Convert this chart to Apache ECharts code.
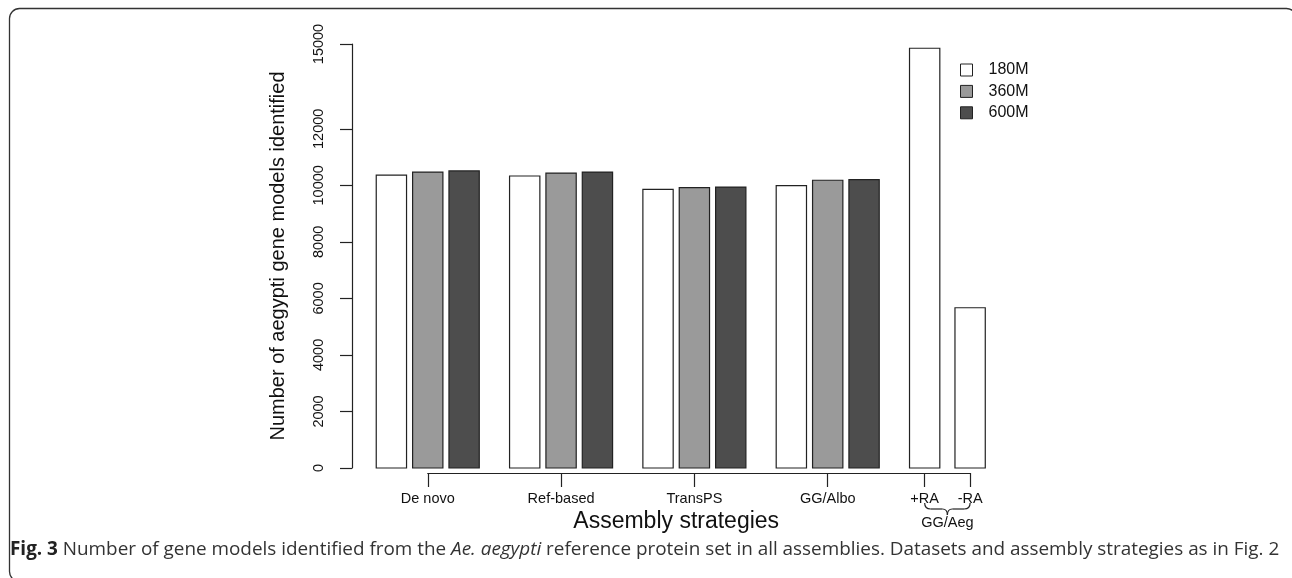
<!DOCTYPE html>
<html>
<head>
<meta charset="utf-8">
<script src="https://cdn.jsdelivr.net/npm/echarts@6/dist/echarts.min.js"></script>
<style>
  html, body { margin: 0; padding: 0; background: #fff; }
  #chart { width: 1292px; height: 578px; }
</style>
</head>
<body>
<div id="chart"></div>
<script>
// data
var seriesNames = ['180M', '360M', '600M'];
var groupNames = ['De novo', 'Ref-based', 'TransPS', 'GG/Albo'];
var values180 = [10360, 10330, 9860, 9990];
var values360 = [10470, 10435, 9920, 10180];
var values600 = [10510, 10470, 9940, 10200];
var aegNames = ['+RA', '-RA'];
var aegValues = [14850, 5670];
var yTicks = [0, 2000, 4000, 6000, 8000, 10000, 12000, 15000];

var barColors = ['#ffffff', '#9a9a9a', '#4d4d4d'];
var axisFont = 'Liberation Sans, Arial, sans-serif';

// barplot layout in bar-width units (R style: space 0.2 inside, 1 between groups)
var groupStep = 4.4;
var barStep = 1.2;
var unitPx = 30.3;
var gridLeft = 352;
var xMin = -0.8, xMax = 20.6;
var gridRight = 1292 - gridLeft - (xMax - xMin) * unitPx;

var perSeries = [values180, values360, values600];
var seriesData = [[], [], []];
var centers = [];
var centerNames = [];
groupNames.forEach(function(name, g) {
    var start = g * groupStep;
    for (var i = 0; i < 3; i++) {
        seriesData[i].push([start + i * barStep, perSeries[i][g]]);
    }
    centers.push(start + barStep + 0.5);
    centerNames.push(name);
});
// GG/Aeg bars (+RA, -RA) are 180M only
var aegStart = groupNames.length * groupStep;
aegValues.forEach(function(v, k) {
    var x = aegStart + k * 1.5;
    seriesData[0].push([x, v]);
    centers.push(x + 0.5);
    centerNames.push(aegNames[k]);
});

function labelFor(v) {
    for (var i = 0; i < centers.length; i++) {
        if (Math.abs(centers[i] - v) < 1e-6) return centerNames[i];
    }
    return '';
}

function renderBar(params, api) {
    var p0 = api.coord([api.value(0), api.value(1)]);
    var p1 = api.coord([api.value(0) + 1, 0]);
    return {
        type: 'rect',
        shape: { x: p0[0], y: p0[1], width: p1[0] - p0[0], height: p1[1] - p0[1] },
        style: { fill: api.visual('color'), stroke: '#222', lineWidth: 1.2 }
    };
}

var firstC = centers[0], lastC = centers[centers.length - 1];

var chart = echarts.init(document.getElementById('chart'));
var option = {
    animation: false,
    grid: [
        { left: gridLeft, right: gridRight, top: 44, bottom: 110 },
        {
            left: gridLeft + (firstC - xMin) * unitPx,
            width: (lastC - firstC) * unitPx,
            top: 400, bottom: 105
        }
    ],
    xAxis: [
        {
            type: 'value', gridIndex: 0, min: xMin, max: xMax,
            axisLine: { show: false }, axisTick: { show: false },
            axisLabel: { show: false }, splitLine: { show: false },
            name: 'Assembly strategies', nameLocation: 'middle', nameGap: 42,
            nameTextStyle: { fontFamily: axisFont, fontSize: 23, color: '#111' }
        },
        {
            type: 'value', gridIndex: 1, min: firstC, max: lastC,
            splitLine: { show: false },
            axisLine: { show: true, onZero: false, lineStyle: { color: '#222', width: 1.2 } },
            axisTick: { show: true, customValues: centers, length: 14,
                lineStyle: { color: '#222', width: 1.2 } },
            axisLabel: { customValues: centers, formatter: labelFor, margin: 18,
                fontFamily: axisFont, fontSize: 14.5, color: '#111' }
        }
    ],
    yAxis: [
        {
            type: 'value', gridIndex: 0, min: 0, max: 15000,
            splitLine: { show: false },
            axisLine: { show: true, onZero: false, lineStyle: { color: '#222', width: 1.2 } },
            axisTick: { show: true, customValues: yTicks, length: 12,
                lineStyle: { color: '#222', width: 1.2 } },
            axisLabel: { customValues: yTicks, rotate: 90, margin: 26,
                formatter: function(v) { return String(v); },
                fontFamily: axisFont, fontSize: 14.5, color: '#111' },
            name: 'Number of aegypti gene models identified',
            nameLocation: 'middle', nameGap: 64, nameMoveOverlap: false,
            nameTextStyle: { fontFamily: axisFont, fontSize: 20, color: '#111' }
        },
        { type: 'value', gridIndex: 1, show: false }
    ],
    legend: {
        data: seriesNames, orient: 'vertical', left: 955, top: 57,
        icon: 'rect', itemWidth: 12, itemHeight: 12, itemGap: 5.4,
        itemStyle: { borderColor: '#222', borderWidth: 1 },
        textStyle: { fontFamily: axisFont, fontSize: 16, color: '#111', padding: [0, 0, 0, 11] }
    },
    series: seriesNames.map(function(name, i) {
        return {
            name: name, type: 'custom', xAxisIndex: 0, yAxisIndex: 0,
            itemStyle: { color: barColors[i] },
            encode: { x: 0, y: 1 },
            renderItem: renderBar,
            data: seriesData[i]
        };
    })
};
chart.setOption(option);

// brace under +RA / -RA, its label, caption and frame
var bx1 = chart.convertToPixel({ xAxisIndex: 1 }, centers[4]);
var bx2 = chart.convertToPixel({ xAxisIndex: 1 }, centers[5]);
var bm = (bx1 + bx2) / 2;
var bt = 503;
var braceStyle = { fill: 'none', stroke: '#222', lineWidth: 1.2 };
function curve(x1, y1, cx, cy, x2, y2) {
    return { type: 'bezierCurve', silent: true,
        shape: { x1: x1, y1: y1, cpx1: cx, cpy1: cy, x2: x2, y2: y2 }, style: braceStyle };
}
function seg(x1, y1, x2, y2) {
    return { type: 'line', silent: true,
        shape: { x1: x1, y1: y1, x2: x2, y2: y2 }, style: braceStyle };
}

chart.setOption({
    graphic: [
        {
            type: 'rect', silent: true,
            shape: { x: 9.5, y: 8.5, width: 1287, height: 573, r: 10 },
            style: { fill: 'none', stroke: '#333', lineWidth: 1.3 }
        },
        curve(bx1, bt, bx1, bt + 6, bx1 + 6, bt + 6),
        seg(bx1 + 6, bt + 6, bm - 5, bt + 6),
        curve(bm - 5, bt + 6, bm, bt + 6, bm, bt + 12),
        curve(bm, bt + 12, bm, bt + 6, bm + 5, bt + 6),
        seg(bm + 5, bt + 6, bx2 - 6, bt + 6),
        curve(bx2 - 6, bt + 6, bx2, bt + 6, bx2, bt),
        {
            type: 'text', x: bm, y: 523, silent: true,
            style: { text: 'GG/Aeg', fontFamily: axisFont, fontSize: 14.5, fill: '#111',
                align: 'center', verticalAlign: 'middle' }
        },
        {
            type: 'text', x: 10, y: 550, silent: true,
            style: {
                text: '{b|Fig. 3} Number of gene models identified from the {i|Ae. aegypti} reference protein set in all assemblies. Datasets and assembly strategies as in Fig. 2',
                fontFamily: 'Open Sans', fontSize: 18.9, fill: '#333', verticalAlign: 'middle',
                rich: {
                    b: { fontFamily: 'Open Sans', fontSize: 18.9, fontWeight: 'bold', fill: '#222' },
                    i: { fontFamily: 'Open Sans', fontSize: 18.9, fontStyle: 'italic', fill: '#333' }
                }
            }
        }
    ]
});
</script>
</body>
</html>
